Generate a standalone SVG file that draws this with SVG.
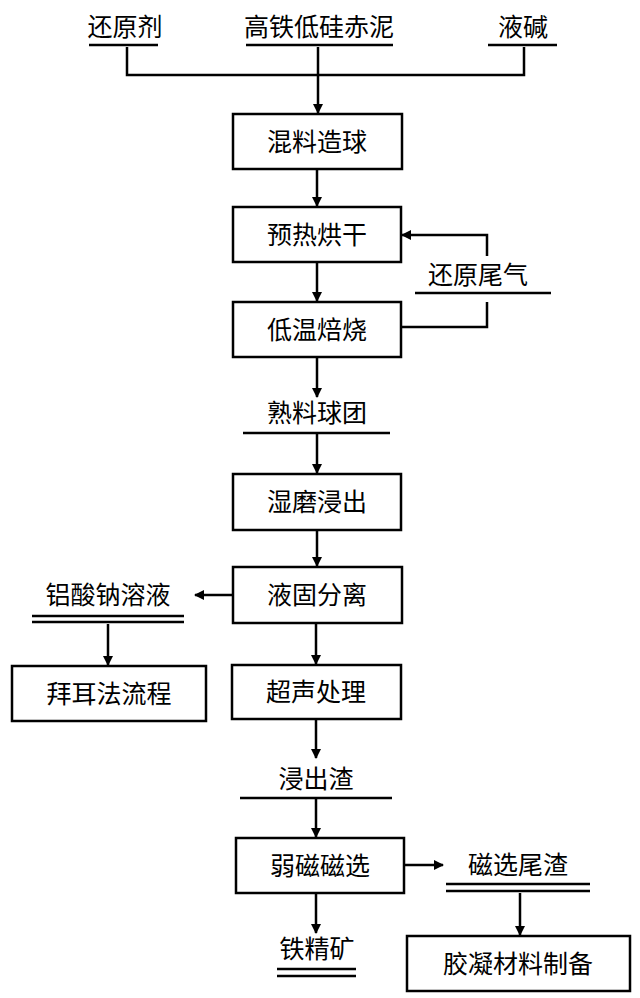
<svg xmlns="http://www.w3.org/2000/svg" width="640" height="998" viewBox="0 0 640 998">
<defs>
<marker id="a" markerWidth="10" markerHeight="10" refX="9" refY="5" orient="auto" markerUnits="userSpaceOnUse"><path d="M0,0 L10,5 L0,10 Z" fill="#000"/></marker>
<style>
text{font-family:"Liberation Serif","Noto Sans CJK SC",serif;font-size:25px;fill:#000;text-anchor:middle;dominant-baseline:central}
rect{fill:#fff;stroke:#000;stroke-width:2.5}
line,polyline{stroke:#000;stroke-width:2.5;fill:none}
</style>
</defs>
<rect x="0" y="0" width="640" height="998" style="stroke:none"/>
<g id="n1"><text x="125" y="27">还原剂</text><line x1="89" y1="45" x2="158" y2="45"/></g>
<g id="n2"><text x="319" y="27">高铁低硅赤泥</text><line x1="246" y1="45" x2="393" y2="45"/></g>
<g id="n3"><text x="523" y="27">液碱</text><line x1="488" y1="45" x2="557" y2="45"/></g>
<g id="b1"><rect x="233" y="114" width="169" height="55"/><text x="317" y="142">混料造球</text></g>
<g id="b2"><rect x="233" y="207" width="168" height="55"/><text x="317" y="235">预热烘干</text></g>
<g id="n4"><text x="478" y="275">还原尾气</text><line x1="415" y1="293" x2="551" y2="293"/></g>
<g id="b3"><rect x="233" y="302" width="168" height="55"/><text x="317" y="330">低温焙烧</text></g>
<g id="n5"><text x="317" y="413">熟料球团</text><line x1="243" y1="433" x2="390" y2="433"/></g>
<g id="b4"><rect x="233" y="474" width="168" height="56"/><text x="317" y="502">湿磨浸出</text></g>
<g id="b5"><rect x="233" y="567" width="169" height="56"/><text x="317" y="595">液固分离</text></g>
<g id="n6"><text x="108" y="595">铝酸钠溶液</text><line x1="32" y1="616" x2="184" y2="616"/><line x1="32" y1="622" x2="184" y2="622"/></g>
<g id="b6"><rect x="12" y="666" width="194" height="55"/><text x="109" y="694">拜耳法流程</text></g>
<g id="b7"><rect x="232" y="665" width="169" height="54"/><text x="316" y="692">超声处理</text></g>
<g id="n7"><text x="316" y="779">浸出渣</text><line x1="240" y1="798" x2="392" y2="798"/></g>
<g id="b8"><rect x="236" y="838" width="168" height="55"/><text x="320" y="866">弱磁磁选</text></g>
<g id="n8"><text x="518" y="865">磁选尾渣</text><line x1="446" y1="884" x2="590" y2="884"/><line x1="446" y1="891" x2="590" y2="891"/></g>
<g id="b9"><rect x="407" y="936" width="223" height="55"/><text x="518" y="964">胶凝材料制备</text></g>
<g id="n9"><text x="317" y="949">铁精矿</text><line x1="277" y1="969" x2="356" y2="969"/><line x1="277" y1="976" x2="356" y2="976"/></g>
<g id="connectors">
<polyline points="127,47 127,75 524,75 524,47"/>
<line x1="318" y1="47" x2="318" y2="113" marker-end="url(#a)"/>
<line x1="317" y1="169" x2="317" y2="206" marker-end="url(#a)"/>
<line x1="317" y1="262" x2="317" y2="301" marker-end="url(#a)"/>
<polyline points="401,327 487,327 487,302"/>
<polyline points="487,256 487,235 402,235" marker-end="url(#a)"/>
<line x1="317" y1="357" x2="317" y2="397" marker-end="url(#a)"/>
<line x1="317" y1="433" x2="317" y2="473" marker-end="url(#a)"/>
<line x1="317" y1="530" x2="317" y2="566" marker-end="url(#a)"/>
<line x1="233" y1="595" x2="195" y2="595" marker-end="url(#a)"/>
<line x1="108" y1="624" x2="108" y2="665" marker-end="url(#a)"/>
<line x1="316" y1="623" x2="316" y2="664" marker-end="url(#a)"/>
<line x1="316" y1="719" x2="316" y2="758" marker-end="url(#a)"/>
<line x1="316" y1="798" x2="316" y2="837" marker-end="url(#a)"/>
<line x1="404" y1="865" x2="443" y2="865" marker-end="url(#a)"/>
<line x1="520" y1="893" x2="520" y2="935" marker-end="url(#a)"/>
<line x1="316" y1="893" x2="316" y2="933" marker-end="url(#a)"/>
</g>
</svg>
